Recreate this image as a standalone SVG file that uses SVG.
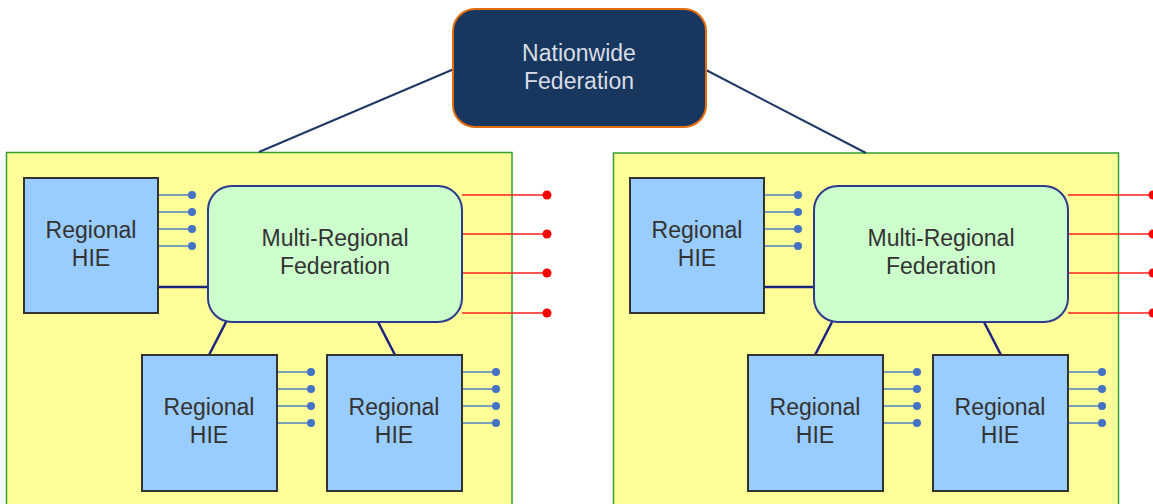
<svg xmlns="http://www.w3.org/2000/svg" width="1153" height="504" viewBox="0 0 1153 504">
<defs>
<style>
.panel{fill:#ffff99;stroke:#33a033;stroke-width:1.5}
.hie{fill:#99ccff;stroke:#333333;stroke-width:2}
.mrf{fill:#ccffcc;stroke:#2e3a8c;stroke-width:2}
.nat{fill:#17375e;stroke:#e46c0a;stroke-width:2}
.t{font-family:"Liberation Sans",Arial,sans-serif;font-size:23px;fill:#333333;text-anchor:middle}
.tn{font-family:"Liberation Sans",Arial,sans-serif;font-size:23px;fill:#d9dde6;text-anchor:middle}
.conn{stroke:#1a237e;stroke-width:2.5;fill:none}
.top{stroke:#1f3864;stroke-width:2;fill:none}
.stub{stroke:#4f7fc4;stroke-width:1.5}
.dot{fill:#4472c4}
.red{stroke:#ff2020;stroke-width:1.5}
.rdot{fill:#ff0000}
</style>
<g id="stubs">
<line class="stub" x1="0" y1="0" x2="34" y2="0"/><circle class="dot" cx="34" cy="0" r="4"/>
<line class="stub" x1="0" y1="17" x2="34" y2="17"/><circle class="dot" cx="34" cy="17" r="4"/>
<line class="stub" x1="0" y1="34" x2="34" y2="34"/><circle class="dot" cx="34" cy="34" r="4"/>
<line class="stub" x1="0" y1="51" x2="34" y2="51"/><circle class="dot" cx="34" cy="51" r="4"/>
</g>
<g id="reds">
<line class="red" x1="0" y1="0" x2="85" y2="0"/><circle class="rdot" cx="85" cy="0" r="4.5"/>
<line class="red" x1="0" y1="39" x2="85" y2="39"/><circle class="rdot" cx="85" cy="39" r="4.5"/>
<line class="red" x1="0" y1="78" x2="85" y2="78"/><circle class="rdot" cx="85" cy="78" r="4.5"/>
<line class="red" x1="0" y1="118" x2="85" y2="118"/><circle class="rdot" cx="85" cy="118" r="4.5"/>
</g>
</defs>

<g id="panel-left"><rect class="panel" x="6.5" y="152.5" width="505.5" height="360"/></g>
<g id="panel-right"><rect class="panel" x="613.5" y="153" width="505" height="360"/></g>

<g id="connectors">
<line class="top" x1="454" y1="69" x2="259" y2="152"/>
<line class="top" x1="706" y1="70" x2="866" y2="153"/>
<line class="conn" x1="158" y1="287" x2="209" y2="287"/>
<line class="conn" x1="226" y1="322" x2="209" y2="355"/>
<line class="conn" x1="378" y1="322" x2="395" y2="355"/>
<line class="conn" x1="764" y1="287" x2="815" y2="287"/>
<line class="conn" x1="832" y1="322" x2="815" y2="355"/>
<line class="conn" x1="984" y1="322" x2="1001" y2="355"/>
<use href="#stubs" x="158" y="195"/>
<use href="#stubs" x="277" y="372"/>
<use href="#stubs" x="462" y="372"/>
<use href="#reds" x="462" y="195"/>
<use href="#stubs" x="764" y="195"/>
<use href="#stubs" x="883" y="372"/>
<use href="#stubs" x="1068" y="372"/>
<use href="#reds" x="1068" y="195"/>
</g>

<g id="nationwide">
<rect class="nat" x="453" y="9" width="253" height="118" rx="22"/>
<text class="tn" x="579" y="61">Nationwide</text>
<text class="tn" x="579" y="89">Federation</text>
</g>

<g id="left-hie-1">
<rect class="hie" x="24" y="178" width="134" height="135"/>
<text class="t" x="91" y="238">Regional</text>
<text class="t" x="91" y="266">HIE</text>
</g>
<g id="left-mrf">
<rect class="mrf" x="208" y="186" width="254" height="136" rx="24"/>
<text class="t" x="335" y="246">Multi-Regional</text>
<text class="t" x="335" y="274">Federation</text>
</g>
<g id="left-hie-2">
<rect class="hie" x="142" y="355" width="135" height="136"/>
<text class="t" x="209" y="415">Regional</text>
<text class="t" x="209" y="443">HIE</text>
</g>
<g id="left-hie-3">
<rect class="hie" x="327" y="355" width="135" height="136"/>
<text class="t" x="394" y="415">Regional</text>
<text class="t" x="394" y="443">HIE</text>
</g>

<g id="right-hie-1">
<rect class="hie" x="630" y="178" width="134" height="135"/>
<text class="t" x="697" y="238">Regional</text>
<text class="t" x="697" y="266">HIE</text>
</g>
<g id="right-mrf">
<rect class="mrf" x="814" y="186" width="254" height="136" rx="24"/>
<text class="t" x="941" y="246">Multi-Regional</text>
<text class="t" x="941" y="274">Federation</text>
</g>
<g id="right-hie-2">
<rect class="hie" x="748" y="355" width="135" height="136"/>
<text class="t" x="815" y="415">Regional</text>
<text class="t" x="815" y="443">HIE</text>
</g>
<g id="right-hie-3">
<rect class="hie" x="933" y="355" width="135" height="136"/>
<text class="t" x="1000" y="415">Regional</text>
<text class="t" x="1000" y="443">HIE</text>
</g>
</svg>
